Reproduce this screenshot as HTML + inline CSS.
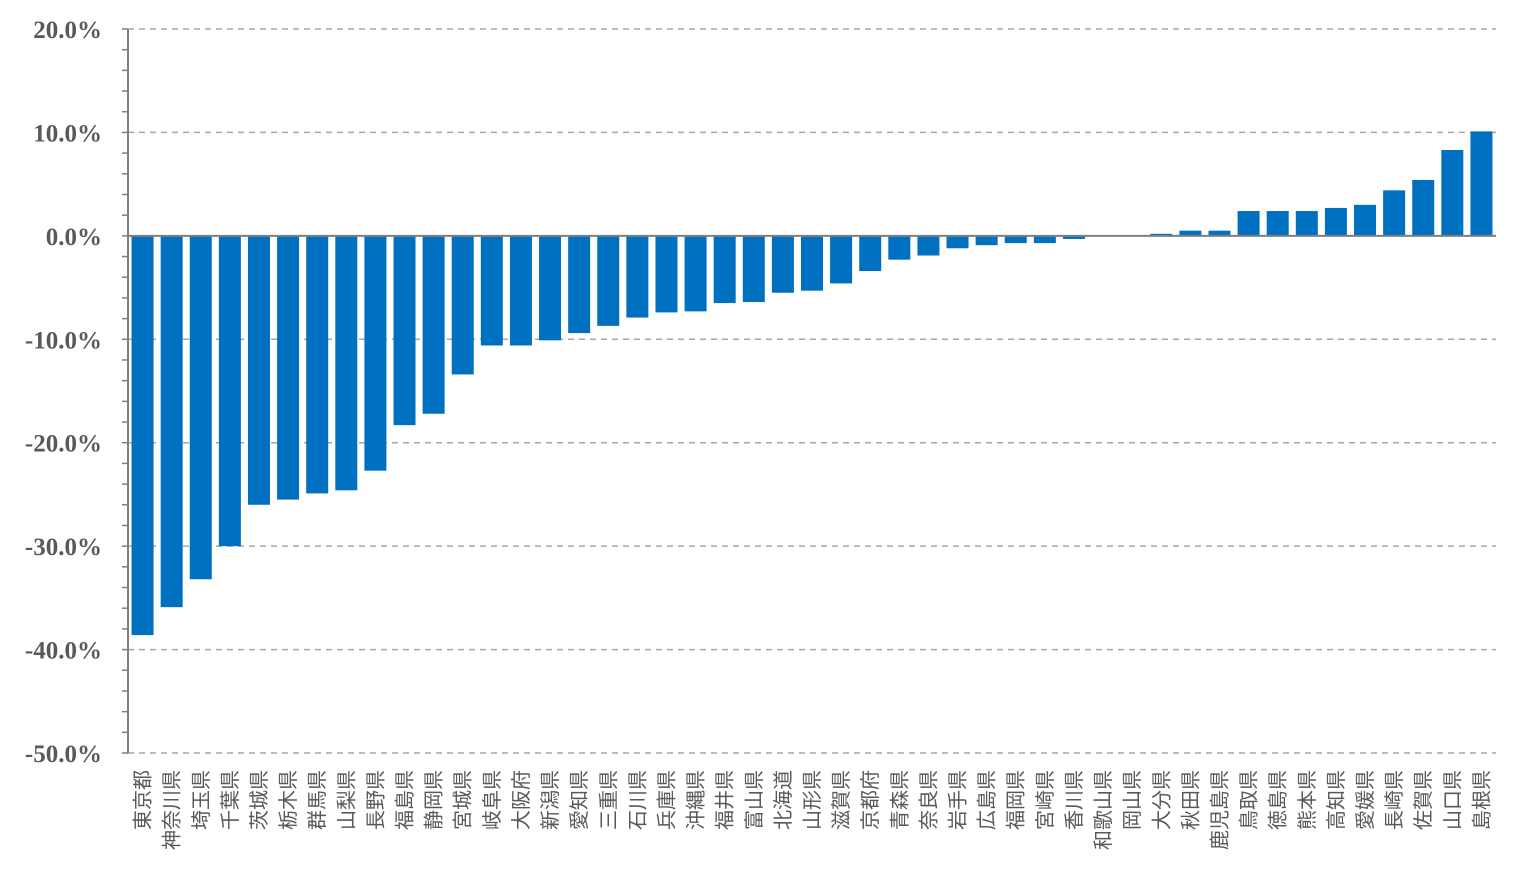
<!DOCTYPE html>
<html><head><meta charset="utf-8"><style>
html,body{margin:0;padding:0;background:#fff;}
svg{display:block;}
</style></head><body>
<svg id="chart" width="1518" height="882" xmlns="http://www.w3.org/2000/svg"></svg>
<script>
const categories = ["東京都","神奈川県","埼玉県","千葉県","茨城県","栃木県","群馬県","山梨県","長野県","福島県","静岡県","宮城県","岐阜県","大阪府","新潟県","愛知県","三重県","石川県","兵庫県","沖縄県","福井県","富山県","北海道","山形県","滋賀県","京都府","青森県","奈良県","岩手県","広島県","福岡県","宮崎県","香川県","和歌山県","岡山県","大分県","秋田県","鹿児島県","鳥取県","徳島県","熊本県","高知県","愛媛県","長崎県","佐賀県","山口県","島根県"];
const values = [-38.6,-35.9,-33.2,-30.0,-26.0,-25.5,-24.9,-24.6,-22.7,-18.3,-17.2,-13.4,-10.6,-10.6,-10.1,-9.4,-8.7,-7.9,-7.4,-7.3,-6.5,-6.4,-5.5,-5.3,-4.6,-3.4,-2.3,-1.9,-1.2,-0.9,-0.7,-0.7,-0.3,0,0,0.2,0.5,0.5,2.4,2.4,2.4,2.7,3.0,4.4,5.4,8.3,10.1];
const yTicks = [20,10,0,-10,-20,-30,-40,-50];
const yTickLabels = ["20.0%","10.0%","0.0%","-10.0%","-20.0%","-30.0%","-40.0%","-50.0%"];

{
const NS="http://www.w3.org/2000/svg";
const svg=document.getElementById('chart');
const yMin=-50,yMax=20,plotTop=29,plotBot=753,plotLeft=128,plotRight=1496;
const yScale=v=>plotBot-(v-yMin)/(yMax-yMin)*(plotBot-plotTop);
const step=(plotRight-plotLeft)/categories.length;
const xc=i=>plotLeft+step*(i+0.5);
const mk=(t,a)=>{const e=document.createElementNS(NS,t);for(const k in a)e.setAttribute(k,a[k]);svg.appendChild(e);return e;};

yTicks.forEach((t,i)=>{
  if(t!==0){
    const g=mk('line',{x1:plotLeft,x2:plotRight,y1:yScale(t),y2:yScale(t),stroke:'#a6a6a6','stroke-width':1.5,'stroke-dasharray':'6,5'});
    
    
  }
  const l=mk('text',{x:102,y:yScale(t)+9,'text-anchor':'end','font-family':'"Liberation Serif",serif','font-weight':'bold','font-size':25,fill:'#595959'});
  l.textContent=yTickLabels[i];
  
  
});
for(let v=yMin;v<=yMax;v+=2){
  const t=mk('line',{x1:plotLeft-6,x2:plotLeft,y1:yScale(v),y2:yScale(v),stroke:'#7f7f7f','stroke-width':1.5});
  
  
}
values.forEach((v,i)=>{
  const y0=yScale(0),y1=yScale(v);
  const b=mk('rect',{x:xc(i)-11,y:Math.min(y0,y1),width:22,height:Math.abs(y1-y0),fill:'#0070c0'});
  
  
  const tx=mk('text',{transform:`translate(${xc(i)+7},770) rotate(-90)`,'text-anchor':'end','font-family':'"Liberation Sans","Noto Sans CJK JP",sans-serif','font-size':20,fill:'#595959'});
  tx.textContent=categories[i];
  
  
});
const ax=mk('line',{x1:plotLeft,x2:plotLeft,y1:plotTop,y2:plotBot,stroke:'#7f7f7f','stroke-width':2});


const zl=mk('line',{x1:plotLeft,x2:plotRight,y1:yScale(0),y2:yScale(0),stroke:'#7f7f7f','stroke-width':2});


}
</script>
</body></html>
